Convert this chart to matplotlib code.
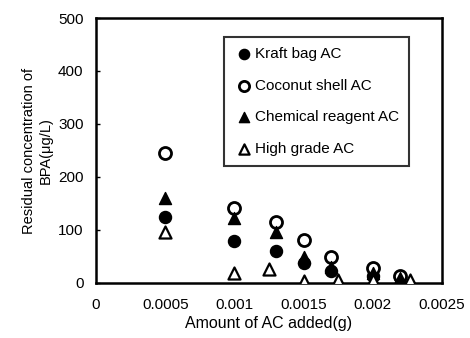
import numpy as np
import matplotlib.pyplot as plt

plt.rcParams['font.family'] = ['Liberation Sans', 'DejaVu Sans']

# data
kraft_x = [0.0005, 0.001, 0.0013, 0.0015, 0.0017, 0.002, 0.0022]
kraft_y = [125, 79, 60, 38, 22, 13, 12]

coco_x = [0.0005, 0.001, 0.0013, 0.0015, 0.0017, 0.002, 0.0022]
coco_y = [245, 141, 116, 82, 50, 28, 14]

chem_x = [0.0005, 0.001, 0.0013, 0.0015, 0.0017, 0.002, 0.0022]
chem_y = [160, 122, 96, 50, 30, 18, 10]

high_x = [0.0005, 0.001, 0.00125, 0.0015, 0.00175, 0.002, 0.00227]
high_y = [97, 19, 26, 3, 6, 6, 6]

xticks = [0, 0.0005, 0.001, 0.0015, 0.002, 0.0025]
xticklabels = ['0', '0.0005', '0.001', '0.0015', '0.002', '0.0025']
yticks = [0, 100, 200, 300, 400, 500]

fig = plt.figure(figsize=(4.7, 3.38), dpi=100)
ax = fig.add_axes([96/470, 1-283/338, 346/470, 265/338])

ms = 75
ax.scatter(kraft_x, kraft_y, s=ms, marker='o', c='black', label='Kraft bag AC', zorder=3)
ax.scatter(coco_x, coco_y, s=ms, marker='o', facecolors='white', edgecolors='black',
           linewidths=2, label='Coconut shell AC', zorder=3)
ax.scatter(chem_x, chem_y, s=ms, marker='^', c='black', label='Chemical reagent AC', zorder=3)
ax.scatter(high_x, high_y, s=ms, marker='^', facecolors='white', edgecolors='black',
           linewidths=1.6, label='High grade AC', zorder=4)

ax.set_xlim(0, 0.0025)
ax.set_ylim(0, 500)
ax.set_xticks(xticks)
ax.set_xticklabels(xticklabels)
ax.set_yticks(yticks)
ax.tick_params(direction='in', length=3, width=1, labelsize=11, pad=9)
ax.tick_params(axis='x', length=0, pad=11)

for sp in ax.spines.values():
    sp.set_linewidth(1.8)

ax.set_xlabel('Amount of AC added(g)', fontsize=11.5, labelpad=3)
ax.set_ylabel('Residual concentration of\nBPA(\u03bcg/L)', fontsize=10.5, labelpad=4)

leg = ax.legend(loc='upper right', bbox_to_anchor=(0.905, 0.928), fontsize=11,
                frameon=True, fancybox=False, edgecolor='black',
                handletextpad=0.0, handlelength=1.4, labelspacing=1.15,
                borderpad=0.65, borderaxespad=0, markerscale=0.85)
leg.get_frame().set_linewidth(1.5)

fig.savefig('out.png', dpi=100)
